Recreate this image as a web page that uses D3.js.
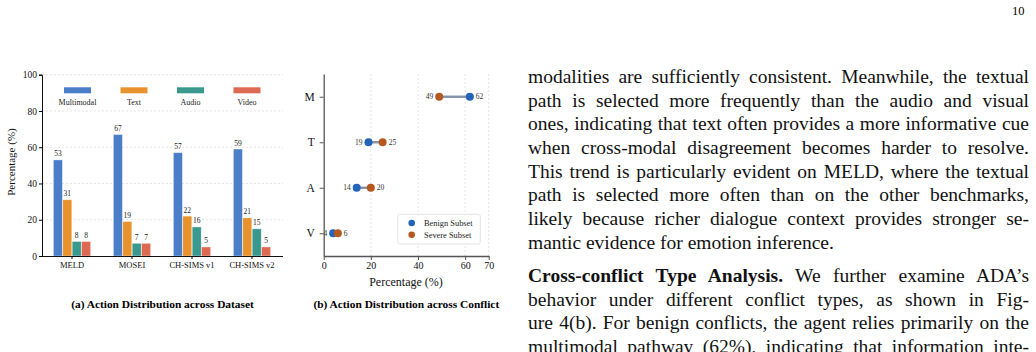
<!DOCTYPE html>
<html lang="en">
<head>
<meta charset="utf-8">
<title>Action distribution</title>
<style>
  body { margin: 0; width: 1036px; height: 352px; background: #fff; overflow: hidden; position: relative; font-family: "Liberation Serif", "DejaVu Serif", serif; }
  #chart { position: absolute; left: 0; top: 0; }
  .gridline { stroke: #d8d8d8; stroke-width: 0.7; stroke-dasharray: 2,2; }
  .para { position: absolute; left: 528px; width: 501px; font-size: 19.5px; color: #111; }
  .para div { height: 23.7px; line-height: 23.7px; text-align: justify; text-align-last: justify; white-space: nowrap; }
  .para div.last { text-align-last: left; }
  #pageno { position: absolute; left: 1012px; top: 4px; font-size: 12.5px; }
</style>
</head>
<body>
<svg id="chart" width="510" height="352"></svg>
<div id="pageno">10</div>
<div class="para" id="para1" style="top:65px"></div>
<div class="para" id="para2" style="top:264px"></div>

<script src="https://d3js.org/d3.v7.min.js"></script>
<script>
// ---- data ----
const datasets = ["MELD", "MOSEI", "CH-SIMS v1", "CH-SIMS v2"];
const actions = ["Multimodal", "Text", "Audio", "Video"];
const multimodalPct = [53, 67, 57, 59];
const textPct = [31, 19, 22, 21];
const audioPct = [8, 7, 16, 15];
const videoPct = [8, 7, 5, 5];
const actionColors = ["#4a7ec9", "#e8922e", "#3a998e", "#de6953"];

const conflictPaths = ["M", "T", "A", "V"];
const benignPct = [62, 19, 14, 4];
const severePct = [49, 25, 20, 6];
const subsetNames = ["Benign Subset", "Severe Subset"];
const subsetColors = ["#2464b8", "#b5581f"];

const yTicksA = [0, 20, 40, 60, 80, 100];
const xTicksB = [0, 20, 40, 60, 70];

const para1Lines = [
  "modalities are sufficiently consistent. Meanwhile, the textual",
  "path is selected more frequently than the audio and visual",
  "ones, indicating that text often provides a more informative cue",
  "when cross-modal disagreement becomes harder to resolve.",
  "This trend is particularly evident on MELD, where the textual",
  "path is selected more often than on the other benchmarks,",
  "likely because richer dialogue context provides stronger se-",
  "mantic evidence for emotion inference."
];
const para2Lines = [
  "<b>Cross-conflict Type Analysis.</b> We further examine ADA\u2019s",
  "behavior under different conflict types, as shown in Fig-",
  "ure 4(b). For benign conflicts, the agent relies primarily on the",
  "multimodal pathway (62%), indicating that information inte-"
];

const svg = d3.select("#chart");
const serif = "'Liberation Serif', 'DejaVu Serif', serif";

// ================= (a) grouped bars =================
(function drawBars() {
  const seriesVals = [multimodalPct, textPct, audioPct, videoPct];
  const x0 = d3.scaleBand().domain(datasets).range([42, 282]).paddingInner(0).paddingOuter(0);
  const x1 = d3.scaleBand().domain(actions).range([-19, 19]).padding(0.04);
  const y = d3.scaleLinear().domain([0, 100]).range([256, 74.7]);
  const g = svg.append("g");

  // grid
  g.selectAll(".gridline").data(yTicksA.filter(d => d > 0)).join("line")
    .attr("class", "gridline")
    .attr("x1", 42).attr("x2", 283)
    .attr("y1", d => y(d)).attr("y2", d => y(d));

  // bars
  const rows = [];
  datasets.forEach((ds, i) => actions.forEach((a, j) => rows.push({ds, a, j, v: seriesVals[j][i]})));
  g.selectAll("rect.bar").data(rows).join("rect")
    .attr("class", "bar")
    .attr("x", d => x0(d.ds) + x0.bandwidth() / 2 + x1(d.a))
    .attr("y", d => y(d.v))
    .attr("width", x1.bandwidth())
    .attr("height", d => y(0) - y(d.v))
    .attr("fill", d => actionColors[d.j])
    .attr("stroke", "#fff").attr("stroke-opacity", 0.6).attr("stroke-width", 0.6);

  g.selectAll("text.val").data(rows).join("text")
    .attr("class", "val")
    .attr("x", d => x0(d.ds) + x0.bandwidth() / 2 + x1(d.a) + x1.bandwidth() / 2)
    .attr("y", d => y(d.v) - 3.5)
    .attr("text-anchor", "middle")
    .style("font-family", serif).style("font-size", "7.5px").attr("fill", "#222")
    .text(d => d.v);

  // axes
  const ya = g.append("g").attr("transform", "translate(42,0)")
    .call(d3.axisLeft(y).tickValues(yTicksA).tickSize(3).tickPadding(2));
  ya.select(".domain").attr("stroke", "#111");
  ya.selectAll("text").style("font-family", serif).style("font-size", "9.5px").attr("fill", "#111");

  const xa = g.append("g").attr("transform", "translate(0,256)")
    .call(d3.axisBottom(x0).tickSize(3).tickPadding(3).tickSizeOuter(0));
  xa.select(".domain").attr("stroke", "#111").attr("d", "M42,0.5H283");
  xa.selectAll("text").style("font-family", serif).style("font-size", "8.5px").attr("fill", "#111");

  g.append("text")
    .attr("transform", "translate(15,162) rotate(-90)")
    .attr("text-anchor", "middle")
    .style("font-family", serif).style("font-size", "11px").attr("fill", "#111")
    .text("Percentage (%)");

  // legend
  const lx = d3.scalePoint().domain(actions).range([77.5, 247]);
  const leg = g.selectAll("g.leg").data(actions).join("g").attr("class", "leg")
    .attr("transform", d => "translate(" + lx(d) + ",0)");
  leg.append("rect").attr("x", -13.5).attr("y", 87.3).attr("width", 27).attr("height", 6)
    .attr("fill", (d, i) => actionColors[i]);
  leg.append("text").attr("y", 104.5).attr("text-anchor", "middle")
    .style("font-family", serif).style("font-size", "8px").attr("fill", "#222")
    .text(d => d);

  g.append("text").attr("x", 162.5).attr("y", 308)
    .attr("text-anchor", "middle")
    .style("font-family", serif).style("font-size", "11.4px").style("font-weight", "bold")
    .text("(a) Action Distribution across Dataset");
})();

// ================= (b) dumbbell =================
(function drawDumbbell() {
  const x = d3.scaleLinear().domain([0, 70]).range([323.7, 488.7]);
  const y = d3.scalePoint().domain(conflictPaths).range([74, 256]).padding(0.5);
  const g = svg.append("g");

  g.selectAll(".gridline").data(xTicksB.filter(d => d > 0)).join("line")
    .attr("class", "gridline")
    .attr("x1", d => x(d)).attr("x2", d => x(d))
    .attr("y1", 74).attr("y2", 256);

  const rows = conflictPaths.map((p, i) => ({p, b: benignPct[i], s: severePct[i]}));

  g.selectAll("line.conn").data(rows).join("line")
    .attr("class", "conn")
    .attr("x1", d => x(d.b)).attr("x2", d => x(d.s))
    .attr("y1", d => y(d.p)).attr("y2", d => y(d.p))
    .attr("stroke", "#8593a8").attr("stroke-width", 2.4);

  g.selectAll("circle.ben").data(rows).join("circle")
    .attr("class", "ben")
    .attr("cx", d => x(d.b)).attr("cy", d => y(d.p)).attr("r", 4)
    .attr("fill", subsetColors[0]);
  g.selectAll("circle.sev").data(rows).join("circle")
    .attr("class", "sev")
    .attr("cx", d => x(d.s)).attr("cy", d => y(d.p)).attr("r", 4)
    .attr("fill", subsetColors[1]);

  g.selectAll("text.lo").data(rows).join("text")
    .attr("class", "lo")
    .attr("x", d => x(Math.min(d.b, d.s)) - 6).attr("y", d => y(d.p) + 2.6)
    .attr("text-anchor", "end")
    .style("font-family", serif).style("font-size", "7.5px").attr("fill", "#333")
    .text(d => Math.min(d.b, d.s));
  g.selectAll("text.hi").data(rows).join("text")
    .attr("class", "hi")
    .attr("x", d => x(Math.max(d.b, d.s)) + 6).attr("y", d => y(d.p) + 2.6)
    .attr("text-anchor", "start")
    .style("font-family", serif).style("font-size", "7.5px").attr("fill", "#333")
    .text(d => Math.max(d.b, d.s));

  const ya = g.append("g").attr("transform", "translate(323.7,0)")
    .call(d3.axisLeft(y).tickSize(4).tickPadding(5).tickSizeOuter(0));
  ya.select(".domain").attr("stroke", "#555").attr("stroke-width", 1.3);
  ya.selectAll(".tick line").attr("stroke", "#555");
  ya.selectAll("text").style("font-family", serif).style("font-size", "11.5px").attr("fill", "#111");

  const xa = g.append("g").attr("transform", "translate(0,256)")
    .call(d3.axisBottom(x).tickValues(xTicksB).tickSize(4).tickPadding(2).tickSizeOuter(0));
  xa.select(".domain").attr("stroke", "#555").attr("stroke-width", 1.3);
  xa.selectAll(".tick line").attr("stroke", "#555");
  xa.selectAll("text").style("font-family", serif).style("font-size", "10px").attr("fill", "#111");

  g.append("text").attr("x", 406).attr("y", 286)
    .attr("text-anchor", "middle")
    .style("font-family", serif).style("font-size", "12px").attr("fill", "#111")
    .text("Percentage (%)");

  // legend
  const lg = g.append("g");
  lg.append("rect").attr("x", 397.7).attr("y", 214.3).attr("width", 82.6).attr("height", 29.7)
    .attr("rx", 2).attr("fill", "#fff").attr("fill-opacity", 0.85)
    .attr("stroke", "#d9dde3").attr("stroke-width", 0.8);
  const ly = d3.scalePoint().domain(subsetNames).range([223, 234.7]);
  lg.selectAll("circle").data(subsetNames).join("circle")
    .attr("cx", 411.7).attr("cy", d => ly(d)).attr("r", 3.3)
    .attr("fill", (d, i) => subsetColors[i]);
  lg.selectAll("text").data(subsetNames).join("text")
    .attr("x", 424).attr("y", d => ly(d) + 2.9)
    .style("font-family", serif).style("font-size", "8.4px").attr("fill", "#222")
    .text(d => d);

  g.append("text").attr("x", 406.3).attr("y", 308)
    .attr("text-anchor", "middle")
    .style("font-family", serif).style("font-size", "11.4px").style("font-weight", "bold")
    .text("(b) Action Distribution across Conflict");
})();

// ================= body text =================
function fillPara(sel, lines, lastIdx) {
  d3.select(sel).selectAll("div").data(lines).join("div")
    .classed("last", (d, i) => i === lastIdx)
    .html(d => d);
}
fillPara("#para1", para1Lines, para1Lines.length - 1);
fillPara("#para2", para2Lines, -1);
</script>
</body>
</html>
